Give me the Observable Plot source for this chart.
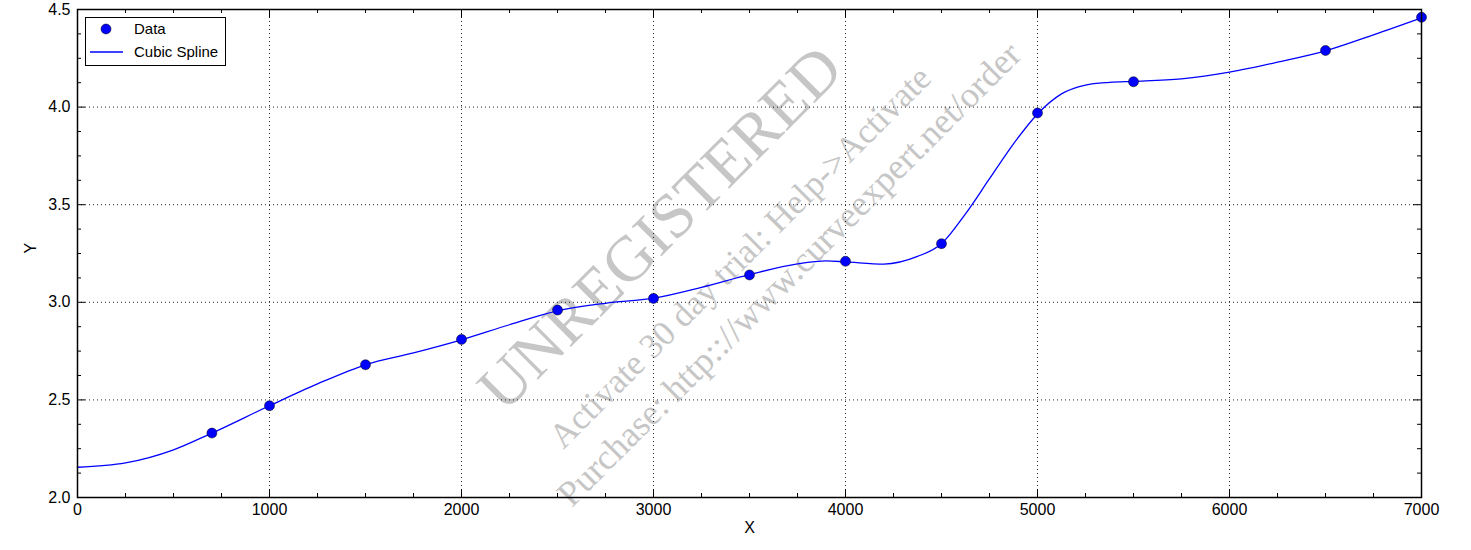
<!DOCTYPE html>
<html><head><meta charset="utf-8">
<script src="https://cdn.jsdelivr.net/npm/d3@7"></script>
<script src="https://cdn.jsdelivr.net/npm/@observablehq/plot@0.6"></script>
<style>
body{margin:0;background:#fff;}
#wrap{position:relative;width:1471px;height:550px;overflow:hidden;}
.wm{position:absolute;font-family:"Liberation Serif","DejaVu Serif",serif;color:#c6c6c6;white-space:nowrap;transform:translate(-50%,-50%) rotate(-45deg);line-height:1;}
#chart{position:absolute;left:0;top:0;}
#legend{position:absolute;left:85px;top:17px;width:139px;height:47px;border:1px solid #000;background:#fff;font-family:"Liberation Sans",Arial,sans-serif;font-size:15px;}
</style></head>
<body>
<div id="wrap">
  <div class="wm" style="left:660px;top:228px;font-size:64px;">UNREGISTERED</div>
  <div class="wm" style="left:740px;top:257px;font-size:35px;">Activate 30 day trial: Help-&gt;Activate</div>
  <div class="wm" style="left:789px;top:274px;font-size:36px;">Purchase: http:://www.curveexpert.net/order</div>
  <div id="chart"></div>
  <div id="legend">
    <svg width="139" height="47" style="position:absolute;left:0;top:0">
      <circle cx="20" cy="11" r="5" fill="#0000ff" stroke="#000" stroke-width="0.5"></circle>
      <text x="48" y="16" font-size="15">Data</text>
      <line x1="4" x2="37" y1="34" y2="34" stroke="#0000ff" stroke-width="1.3"></line>
      <text x="48" y="39" font-size="15">Cubic Spline</text>
    </svg>
  </div>
</div>
<script>
// Data points
const dataX = [700, 1000, 1500, 2000, 2500, 3000, 3500, 4000, 4500, 5000, 5500, 6500, 7000];
const dataY = [2.33, 2.47, 2.68, 2.81, 2.96, 3.02, 3.14, 3.21, 3.30, 3.97, 4.13, 4.29, 4.46];

// Cubic spline curve
const splineX = [0, 250, 500, 700, 1000, 1250, 1500, 1750, 2000, 2250, 2500, 2750, 3000, 3250, 3500, 3750, 3900, 4000, 4200, 4375, 4500, 4625, 4750, 4875, 5000, 5125, 5250, 5375, 5500, 5750, 6000, 6250, 6500, 6750, 7000];
const splineY = [2.155, 2.177, 2.244, 2.33, 2.47, 2.582, 2.68, 2.741, 2.808, 2.885, 2.956, 2.995, 3.021, 3.077, 3.142, 3.197, 3.212, 3.207, 3.196, 3.235, 3.30, 3.453, 3.633, 3.812, 3.965, 4.068, 4.113, 4.127, 4.132, 4.145, 4.179, 4.23, 4.288, 4.37, 4.457];

// Ticks
const xMajor = [0, 1000, 2000, 3000, 4000, 5000, 6000, 7000];
const yMajor = [2.0, 2.5, 3.0, 3.5, 4.0, 4.5];

const points = dataX.map((x, i) => ({x, y: dataY[i]}));
const spline = splineX.map((x, i) => ({x, y: splineY[i]}));
const xMinor = d3.range(0, 7001, 250).filter(d => d % 1000 !== 0);
const yMinor = d3.range(2, 4.5001, 0.125).filter(d => Math.abs(d * 2 - Math.round(d * 2)) > 1e-6);

const W = 1471, H = 550, mL = 77, mR = 50, mT = 9, mB = 53;
const pw = W - mL - mR, ph = H - mT - mB;
const major = 8, minor = 4;

const chart = Plot.plot({
  width: W, height: H,
  marginLeft: mL, marginRight: mR, marginTop: mT, marginBottom: mB,
  style: {background: "transparent", fontFamily: "Liberation Sans, Arial, sans-serif", fontSize: "16px", color: "#000"},
  x: {domain: [0, 7000]},
  y: {domain: [2.0, 4.5]},
  marks: [
    Plot.gridX(xMajor, {stroke: "#000", strokeOpacity: 0.85, strokeDasharray: "1,3"}),
    Plot.gridY(yMajor, {stroke: "#000", strokeOpacity: 0.85, strokeDasharray: "1,3"}),
    Plot.tickX(xMajor, {x: d => d, insetTop: ph - major, stroke: "#000"}),
    Plot.tickX(xMajor, {x: d => d, insetBottom: ph - major, stroke: "#000"}),
    Plot.tickX(xMinor, {x: d => d, insetTop: ph - minor, stroke: "#000"}),
    Plot.tickX(xMinor, {x: d => d, insetBottom: ph - minor, stroke: "#000"}),
    Plot.tickY(yMajor, {y: d => d, insetRight: pw - major, stroke: "#000"}),
    Plot.tickY(yMajor, {y: d => d, insetLeft: pw - major, stroke: "#000"}),
    Plot.tickY(yMinor, {y: d => d, insetRight: pw - minor, stroke: "#000"}),
    Plot.tickY(yMinor, {y: d => d, insetLeft: pw - minor, stroke: "#000"}),
    Plot.line(spline, {x: "x", y: "y", curve: "monotone-x", stroke: "#0000ff", strokeWidth: 1.3}),
    Plot.dot(points, {x: "x", y: "y", r: 5, fill: "#0000ff", stroke: "#000", strokeWidth: 0.5}),
    Plot.frame({stroke: "#000", strokeWidth: 1.5}),
    Plot.axisX(xMajor, {tickSize: 0, tickPadding: 6, tickFormat: d3.format("d"), label: null, fontSize: 16}),
    Plot.axisY(yMajor, {tickSize: 0, tickPadding: 7, tickFormat: d3.format(".1f"), label: null, fontSize: 16}),
    Plot.text(["X"], {frameAnchor: "bottom", dy: 35, text: d => d, fontSize: 16}),
    Plot.text(["Y"], {frameAnchor: "left", dx: -47, rotate: -90, text: d => d, fontSize: 16})
  ]
});
document.getElementById("chart").appendChild(chart);
</script>
</body></html>
